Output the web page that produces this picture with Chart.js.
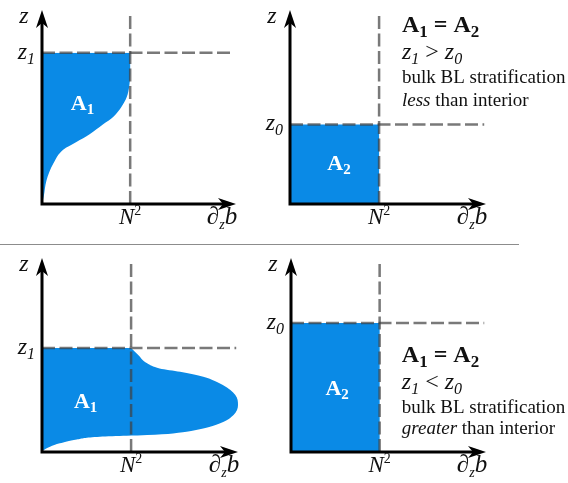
<!DOCTYPE html>
<html>
<head>
<meta charset="utf-8">
<script src="https://cdn.jsdelivr.net/npm/chart.js@4.4.1/dist/chart.umd.min.js"></script>
<style>
  body { margin: 0; background: #fff; width: 568px; height: 483px; position: relative; overflow: hidden; }
  canvas { position: absolute; }
  #sep { position: absolute; left: 0; top: 244px; width: 519px; height: 1px; background: #8c8c8c; }
  #warm { position: absolute; left: -999px; font-family: "Liberation Serif"; }
</style>
</head>
<body>
<span id="warm">z <i>z</i> <b>A</b></span>
<canvas id="p1" width="284" height="240" style="left:0;top:0"></canvas>
<canvas id="p2" width="318" height="240" style="left:250px;top:0"></canvas>
<div id="sep"></div>
<canvas id="p3" width="284" height="239" style="left:0;top:244px"></canvas>
<canvas id="p4" width="318" height="239" style="left:250px;top:244px"></canvas>
<script>
const SERIF = '"Liberation Serif", "Times New Roman", serif';
const BLUE = '#0a8ae6';
const DASH = 'rgba(64,64,64,0.7)';

// axis ranges, N^2 sits at x = 1
const xMax = 2.2;
const yMax = 1;
const N2 = 1;

// heights of the mixed layer top in each panel
const z1Less = 0.78;
const z0Less = 0.41;
const z1Greater = 0.536;
const z0Greater = 0.665;

// top left: stratification profile, weaker than interior (read bottom to top)
const lessX = [0, 0.02, 0.05, 0.13, 0.24, 0.39, 0.54, 0.69, 0.81, 0.90, 0.96, 0.99, 1.0, 1.0];
const lessY = [0, 0.04, 0.12, 0.21, 0.28, 0.32, 0.36, 0.41, 0.45, 0.50, 0.55, 0.61, 0.67, 0.78];

// bottom left: profile with a bulge past N^2 (read bottom to top)
const greaterX = [0, 0.09, 0.20, 0.39, 0.65, 0.95, 1.18, 1.47, 1.77, 2.00, 2.15, 2.20, 2.17, 2.03, 1.81, 1.55, 1.32, 1.18, 1.08, 1.0];
const greaterY = [0.005, 0.027, 0.045, 0.065, 0.079, 0.084, 0.088, 0.096, 0.117, 0.148, 0.191, 0.242, 0.294, 0.345, 0.388, 0.414, 0.431, 0.457, 0.50, 0.536];

const notesLess = ['bulk BL stratification', 'less', ' than interior'];
const notesGreater = ['bulk BL stratification', 'greater', ' than interior'];

const zip = (xs, ys) => xs.map((x, i) => ({x, y: ys[i]}));

function it(px) { return 'italic ' + px + 'px ' + SERIF; }
function rm(px) { return px + 'px ' + SERIF; }
function bd(px) { return 'bold ' + px + 'px ' + SERIF; }

// draws a run of text pieces [text, font, dy] starting on one baseline
function rich(ctx, x, y, parts, align, color) {
  ctx.save();
  ctx.fillStyle = color || '#111';
  ctx.textBaseline = 'alphabetic';
  ctx.textAlign = 'left';
  let w = 0;
  parts.forEach(p => { ctx.font = p[1]; w += ctx.measureText(p[0]).width; });
  let cx = align === 'center' ? x - w / 2 : align === 'right' ? x - w : x;
  parts.forEach(p => {
    ctx.font = p[1];
    ctx.fillText(p[0], cx, y + (p[2] || 0));
    cx += ctx.measureText(p[0]).width;
  });
  ctx.restore();
}

function arrow(ctx, x, y, right) {
  ctx.save();
  ctx.translate(x, y);
  if (right) ctx.rotate(Math.PI / 2);
  ctx.beginPath();
  ctx.moveTo(0, 0);
  ctx.lineTo(6, 18);
  ctx.lineTo(0, 13);
  ctx.lineTo(-6, 18);
  ctx.closePath();
  ctx.fill();
  ctx.restore();
}

const sketch = {
  id: 'sketch',
  afterDatasetsDraw(chart, args, opts) {
    const ctx = chart.ctx;
    const xs = chart.scales.x, ys = chart.scales.y;
    const x0 = xs.getPixelForValue(0), y0 = ys.getPixelForValue(0);
    const xr = xs.getPixelForValue(xMax), yt = ys.getPixelForValue(yMax);
    ctx.save();
    ctx.strokeStyle = '#000';
    ctx.fillStyle = '#000';
    ctx.lineWidth = 3;
    ctx.beginPath();
    ctx.moveTo(x0, y0 + 1.5);
    ctx.lineTo(x0, yt + 13);
    ctx.moveTo(x0 - 1.5, y0);
    ctx.lineTo(xr - 13, y0);
    ctx.stroke();
    arrow(ctx, x0, yt, false);
    arrow(ctx, xr, y0, true);
    ctx.restore();

    const I = it(24), Is = it(16);
    rich(ctx, x0 - 18, yt + 13, [['z', I]], 'center');
    rich(ctx, x0 - 7, ys.getPixelForValue(opts.level) + 6, [['z', I], [opts.sub, Is, 5]], 'right');
    rich(ctx, xs.getPixelForValue(N2), y0 + 20, [['N', it(23)], ['2', rm(14), -9]], 'center');
    rich(ctx, xr - 14, y0 + 20, [['\u2202', it(25)], ['z', it(14), 5], ['b', it(25)]], 'center');
    rich(ctx, xs.getPixelForValue(opts.area[0]), ys.getPixelForValue(opts.area[1]),
      [['A', bd(22)], [opts.areaSub, bd(15), 4]], 'center', '#fff');

    if (opts.notes) {
      const n = opts.notes;
      const nx = xs.getPixelForValue(n.x);
      const yy = n.y.map(v => ys.getPixelForValue(v));
      rich(ctx, nx, yy[0], [['A', bd(24)], ['1', bd(17), 5], [' = ', bd(24)], ['A', bd(24)], ['2', bd(17), 5]], 'left');
      rich(ctx, nx, yy[1], [['z', it(24)], ['1', it(16), 5], [' ' + n.rel + ' ', rm(24)], ['z', it(24)], ['0', it(16), 5]], 'left');
      rich(ctx, nx, yy[2], [[n.text[0], rm(19)]], 'left');
      rich(ctx, nx, yy[3], [[n.text[1], it(19)], [n.text[2], rm(19)]], 'left');
    }
  }
};

// profile: a curve read as x(z), filled across to the z axis
function profileSet(points) {
  return {data: points, indexAxis: 'y', fill: 'origin', backgroundColor: BLUE,
    borderWidth: 0, borderColor: 'rgba(0,0,0,0)', pointRadius: 0,
    cubicInterpolationMode: 'monotone', clip: false, order: 2};
}

// box: a closed outline filled inside
function boxSet(points) {
  return {data: points, fill: 'shape', backgroundColor: BLUE, borderWidth: 0,
    borderColor: 'rgba(0,0,0,0)', pointRadius: 0, tension: 0, clip: false, order: 2};
}

function panel(id, fillSet, level, padding, opts) {
  const dashed = {
    borderColor: DASH, borderWidth: 2.5, borderDash: [13, 4.5],
    pointRadius: 0, fill: false, clip: false, order: 1
  };
  new Chart(document.getElementById(id), {
    type: 'line',
    data: {
      datasets: [
        fillSet,
        Object.assign({data: [{x: N2, y: 0}, {x: N2, y: 0.985}]}, dashed),
        Object.assign({data: [{x: 0, y: level}, {x: 2.18, y: level}]}, dashed),
      ]
    },
    options: {
      responsive: false,
      animation: false,
      events: [],
      layout: {padding},
      scales: {
        x: {type: 'linear', min: 0, max: xMax, display: false},
        y: {type: 'linear', min: 0, max: yMax, display: false},
      },
      plugins: {
        legend: {display: false},
        tooltip: {enabled: false},
        sketch: Object.assign({level}, opts),
      }
    },
    plugins: [sketch]
  });
}

const rect = z => [{x: 0, y: 0}, {x: 0, y: z}, {x: N2, y: z}, {x: N2, y: 0}];

function draw() {
  panel('p1', profileSet(zip(lessX, lessY)), z1Less,
    {left: 42, top: 10, right: 48, bottom: 36},
    {sub: '1', area: [0.46, 0.485], areaSub: '1'});

  panel('p2', boxSet(rect(z0Less)), z0Less,
    {left: 40, top: 10, right: 82, bottom: 36},
    {sub: '0', area: [0.55, 0.175], areaSub: '2',
      notes: {x: 1.257, y: [0.887, 0.747, 0.624, 0.505], rel: '>', text: notesLess}});

  panel('p3', profileSet(zip(greaterX, greaterY)), z1Greater,
    {left: 42, top: 14, right: 46, bottom: 31},
    {sub: '1', area: [0.49, 0.227], areaSub: '1'});

  panel('p4', boxSet(rect(z0Greater)), z0Greater,
    {left: 41, top: 14, right: 82, bottom: 31},
    {sub: '0', area: [0.52, 0.294], areaSub: '2',
      notes: {x: 1.25, y: [0.464, 0.325, 0.201, 0.093], rel: '<', text: notesGreater}});
}

Promise.all([
  document.fonts.load('24px "Liberation Serif"'),
  document.fonts.load('italic 24px "Liberation Serif"'),
  document.fonts.load('bold 24px "Liberation Serif"'),
]).catch(() => null).then(draw);
</script>
</body>
</html>
